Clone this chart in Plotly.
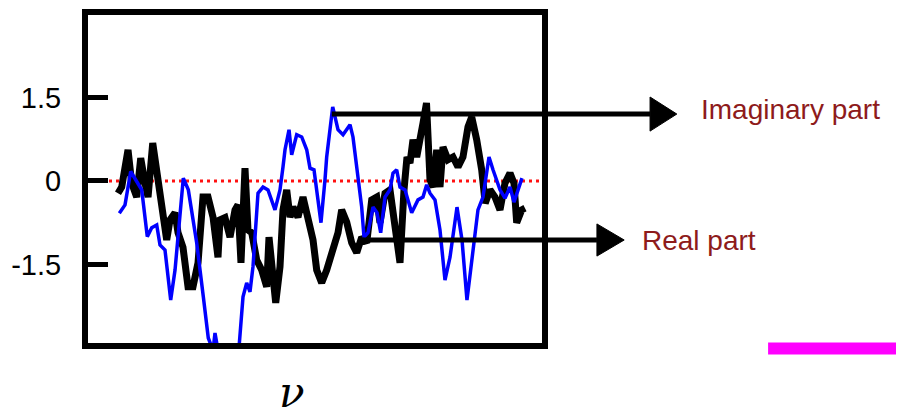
import plotly.graph_objects as go

# ---- data ----
nu_imag = [7.46, 8.70, 9.93, 11.24, 12.33, 13.54, 14.50, 15.59, 16.30, 17.39, 18.63, 19.57, 20.28, 21.37,
           22.46, 24.28, 25.72, 26.80, 27.83, 28.26, 28.91, 30.43, 33.26, 34.35, 35.15, 35.87, 36.52, 37.61,
           38.70, 39.78, 41.30, 42.39, 43.04, 43.48, 44.35, 44.93, 46.02, 47.11, 48.20, 48.91, 49.78, 50.65,
           51.30, 52.17, 52.54, 53.85, 55.00, 56.09, 57.61, 58.26, 59.07, 60.15, 60.65, 61.52, 62.61, 63.48,
           64.28, 65.22, 66.30, 66.96, 67.76, 68.48, 69.57, 71.02, 72.39, 73.48, 74.28, 75.00, 76.09, 77.17,
           78.26, 79.35, 80.87, 81.96, 83.04, 84.13, 85.43, 86.52, 87.83, 88.70, 90.22, 91.30, 92.39, 93.26,
           95.00]
imag_part = [-0.58, -0.43, 0.17, -0.01, -0.16, -1.00, -0.84, -0.79, -1.15, -1.24, -2.14, -1.60, -0.88, 0.05,
             -0.16, -1.11, -2.08, -2.82, -3.04, -2.73, -3.04, -3.31, -3.22, -2.08, -1.83, -1.99, -1.54, -0.22,
             -0.11, -0.16, -0.52, -0.16, 0.25, 0.56, 0.92, 0.47, 0.83, 0.79, 0.56, 0.23, 0.20, -0.34,
             -0.75, 0.02, 0.43, 1.33, 0.92, 0.83, 1.01, 0.79, 0.25, -0.47, -1.01, -0.93, -0.47, -0.57,
             -0.93, -0.29, -0.16, 0.14, 0.20, -0.11, -0.16, -0.57, -0.34, -0.29, -0.07, -0.22, -0.34, -0.88,
             -1.78, -1.37, -0.47, -1.06, -2.14, -1.42, -0.52, -0.29, 0.43, 0.20, -0.16, -0.31, -0.11, -0.38,
             0.05]

nu_real = [7.17, 7.98, 9.35, 10.15, 11.24, 12.11, 13.04, 13.70, 14.72, 15.59, 16.67, 17.76, 18.48, 19.57,
           20.22, 21.30, 22.39, 23.48, 24.57, 25.65, 26.74, 27.83, 28.91, 29.35, 30.43, 31.52, 32.61, 33.26,
           33.91, 34.78, 35.43, 36.24, 37.33, 38.41, 39.50, 40.00, 40.65, 41.46, 42.39, 43.04, 43.85, 44.57,
           45.22, 46.30, 47.39, 48.48, 49.57, 50.37, 51.46, 52.54, 53.91, 55.00, 55.80, 56.89, 57.98, 59.07,
           60.15, 61.24, 62.33, 63.41, 64.13, 65.22, 66.30, 67.39, 68.48, 69.35, 70.00, 70.65, 71.30, 72.11,
           72.83, 73.48, 74.24, 75.00, 75.65, 76.46, 77.17, 77.83, 78.91, 80.00, 81.09, 82.17, 83.26, 84.07,
           85.15, 86.24, 87.00, 88.04, 89.13, 90.22, 91.30, 92.39, 93.26, 93.85, 94.93, 95.65]
real_part = [-0.22, -0.11, 0.56, -0.04, -0.29, 0.41, -0.04, -0.29, 0.68, 0.14, -0.52, -1.06, -0.70, -0.57,
             -0.93, -1.19, -1.90, -1.90, -1.47, -0.29, -0.29, -0.65, -1.37, -0.70, -0.66, -1.01, -0.52, -0.43,
             -1.47, 0.23, -0.88, -0.93, -1.42, -1.60, -1.90, -1.01, -1.54, -2.19, -1.54, -0.52, -0.16, -0.65,
             -0.47, -0.65, -0.29, -0.65, -1.06, -1.60, -1.83, -1.60, -1.24, -0.93, -0.52, -0.74, -1.11, -1.29,
             -1.01, -1.11, -0.34, -0.29, -0.75, -0.22, -0.16, -0.88, -1.47, -0.16, 0.43, 0.32, 0.74, 0.43,
             0.86, 1.04, 1.40, 0.02, -0.11, 0.56, -0.11, 0.61, 0.38, 0.43, 0.25, 0.43, 0.97, 1.15,
             0.74, 0.20, -0.40, -0.16, -0.29, -0.52, -0.04, 0.14, -0.04, -0.75, -0.52, -0.49]

y_tick_vals = [-1.5, 0, 1.5]
y_tick_text = ["-1.5", "0", "1.5"]
label_imag = "Imaginary part"
label_real = "Real part"
x_label = "ν"

LABEL_RED = "#8e1b1b"
SANS = "Liberation Sans, Arial, sans-serif"

fig = go.Figure()
fig.add_trace(go.Scatter(x=nu_real, y=real_part, mode="lines",
                         line=dict(color="black", width=7), showlegend=False))
fig.add_trace(go.Scatter(x=nu_imag, y=imag_part, mode="lines",
                         line=dict(color="#0000ff", width=3.5), showlegend=False))

shapes = []
# zero reference line (red dotted)
shapes.append(dict(type="line", xref="paper", yref="y", x0=0, x1=1, y0=0, y1=0,
                   line=dict(color="#ff1010", width=3, dash="3px,4px"), layer="below"))

# arrows (paper coordinates)
def arrow(x0, x1, xtip, y, hh):
    shapes.append(dict(type="line", xref="paper", yref="paper", x0=x0, x1=x1, y0=y, y1=y,
                       line=dict(color="black", width=5)))
    shapes.append(dict(type="path", xref="paper", yref="paper",
                       path=f"M{x1},{y-hh} L{xtip},{y} L{x1},{y+hh} Z",
                       fillcolor="black", line=dict(color="black", width=1)))

arrow(0.537, 1.238, 1.297, 0.698, 0.052)
arrow(0.606, 1.121, 1.181, 0.314, 0.049)
# magenta bar at the bottom right
shapes.append(dict(type="line", xref="paper", yref="paper", x0=1.498, x1=1.80, y0=-0.017, y1=-0.017,
                   line=dict(color="#ff00ff", width=12)))

annotations = [
    dict(text=label_imag, xref="paper", yref="paper", x=1.346, y=0.713, xanchor="left", yanchor="middle",
         showarrow=False, font=dict(family=SANS, size=28, color=LABEL_RED)),
    dict(text=label_real, xref="paper", yref="paper", x=1.216, y=0.314, xanchor="left", yanchor="middle",
         showarrow=False, font=dict(family=SANS, size=28, color=LABEL_RED)),
    dict(text=f"<i>{x_label}</i>", xref="paper", yref="paper", x=0.449, y=-0.232, xanchor="center",
         yanchor="bottom", showarrow=False, font=dict(family="DejaVu Serif", size=42, color="black")),
]

fig.update_layout(
    width=896, height=412,
    margin=dict(l=80, r=362, t=7, b=77),
    paper_bgcolor="white", plot_bgcolor="white",
    shapes=shapes, annotations=annotations,
    xaxis=dict(range=[0.65, 99.35], showgrid=False, zeroline=False, showticklabels=False, ticks="",
               showline=True, linecolor="black", linewidth=6, mirror=True, automargin=False),
    yaxis=dict(range=[-2.91, 2.98], showgrid=False, zeroline=False, tickmode="array",
               tickvals=y_tick_vals, ticktext=y_tick_text, ticks="inside", ticklen=20, tickwidth=5,
               tickcolor="black", showline=True, linecolor="black", linewidth=6, mirror=True,
               automargin=False,
               tickfont=dict(family=SANS, size=29, color="black"), ticklabelstandoff=15),
)

fig.write_html("out.html")
